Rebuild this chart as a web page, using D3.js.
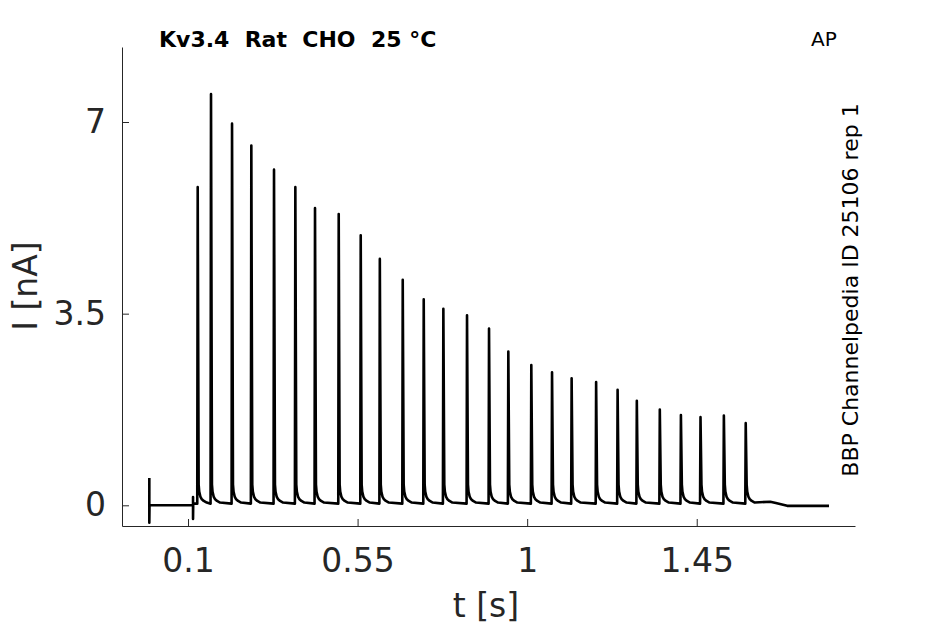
<!DOCTYPE html>
<html>
<head>
<meta charset="utf-8">
<script src="https://cdn.jsdelivr.net/npm/d3@7"></script>
<style>
  body { margin: 0; background: #fff; }
  text { font-family: "DejaVu Sans", sans-serif; fill: #262626; }
</style>
</head>
<body>
<div id="chart"></div>
<script>
// spike times (s) and peak currents (nA)
const spikeTimes = [0.1257, 0.161, 0.2168, 0.268, 0.3282, 0.3848, 0.437, 0.4999,
  0.5583, 0.609, 0.6698, 0.7255, 0.7776, 0.8404, 0.8988, 0.95, 1.011, 1.066,
  1.118, 1.183, 1.240, 1.291, 1.352, 1.408, 1.460, 1.522, 1.580];
const spikePeaks = [5.81, 7.51, 6.97, 6.57, 6.13, 5.81, 5.43, 5.32, 4.93, 4.50,
  4.12, 3.76, 3.59, 3.47, 3.23, 2.81, 2.56, 2.43, 2.32, 2.25, 2.11, 1.91, 1.75,
  1.65, 1.61, 1.64, 1.50];

// decay tail after each peak: offset (s) and current above baseline (nA)
const tailDt = [0.0025, 0.004, 0.007, 0.011, 0.016, 0.024];
const tailI = [0.35, 0.22, 0.13, 0.08, 0.05, 0.02];

// segments before the first spike and after the last one: [t, I]
const leadTrace = [[-0.0027, 0.5], [-0.0027, -0.32], [-0.0022, 0], [0.1133, 0],
  [0.1133, 0.15], [0.1133, -0.25], [0.1138, 0.03]];
const endTrace = [[1.645, 0.066], [1.66, 0.04], [1.69, -0.01], [1.801, -0.01]];
const baseline = 0.03;

const xTicks = [0.1, 0.55, 1, 1.45];
const xTickLabels = ["0.1", "0.55", "1", "1.45"];
const yTicks = [0, 3.5, 7];
const yTickLabels = ["0", "3.5", "7"];

const width = 945, height = 624;
const margin = {left: 122, right: 90, top: 47, bottom: 98};

const svg = d3.select("#chart").append("svg")
  .attr("width", width)
  .attr("height", height)
  .style("display", "block");

svg.append("rect").attr("width", width).attr("height", height).attr("fill", "#fff");

let scaleX = d3.scaleLinear()
  .domain([-0.0752, 1.870])
  .range([margin.left, width - margin.right]);
let scaleY = d3.scaleLinear()
  .domain([-0.378, 8.37])
  .range([height - margin.bottom, margin.top]);

// assemble the trace from the read-off pieces
let trace = leadTrace.slice();
for (let i = 0; i < spikeTimes.length; ++i) {
  let t = spikeTimes[i];
  trace.push([t - 0.0012, baseline]);
  trace.push([t, spikePeaks[i]]);
  for (let k = 0; k < tailDt.length; ++k) {
    trace.push([t + tailDt[k], baseline + tailI[k]]);
  }
}
trace = trace.concat(endTrace);

let line = d3.line()
  .x(d => scaleX(d[0]))
  .y(d => scaleY(d[1]));

let axisBottom = d3.axisBottom(scaleX)
  .tickValues(xTicks)
  .tickFormat((d, i) => xTickLabels[i])
  .tickSizeInner(-7)
  .tickSizeOuter(0);

let axisLeft = d3.axisLeft(scaleY)
  .tickValues(yTicks)
  .tickFormat((d, i) => yTickLabels[i])
  .tickSizeInner(-7)
  .tickSizeOuter(0)
  .tickPadding(16);

let gx = svg.append("g")
  .attr("transform", "translate(0," + (height - margin.bottom) + ")")
  .call(axisBottom);
gx.selectAll("text")
  .attr("y", 46)
  .attr("dy", 0)
  .style("font-size", "33px");

let gy = svg.append("g")
  .attr("transform", "translate(" + margin.left + ",0)")
  .call(axisLeft);
gy.selectAll("text")
  .style("font-size", "33px");

svg.selectAll(".domain, .tick line")
  .attr("stroke", "#262626")
  .attr("stroke-width", 1);

svg.append("path")
  .datum(trace)
  .attr("d", line)
  .attr("fill", "none")
  .attr("stroke", "#000")
  .attr("stroke-width", 2.6)
  .attr("stroke-linejoin", "round");

svg.append("text")
  .text("t [s]")
  .attr("text-anchor", "middle")
  .attr("x", 486)
  .attr("y", 617)
  .style("font-size", "33px");

svg.append("text")
  .text("I [nA]")
  .attr("text-anchor", "middle")
  .attr("transform", "translate(37,286) rotate(-90)")
  .style("font-size", "33px");

svg.append("text")
  .text("Kv3.4  Rat  CHO  25 °C")
  .attr("x", 159)
  .attr("y", 47)
  .style("font-size", "22px")
  .style("font-weight", "bold")
  .style("fill", "#000")
  .style("white-space", "pre");

svg.append("text")
  .text("AP")
  .attr("x", 811)
  .attr("y", 46)
  .style("font-size", "20px")
  .style("fill", "#000");

svg.append("text")
  .text("BBP Channelpedia ID 25106 rep 1")
  .attr("text-anchor", "middle")
  .attr("transform", "translate(858,290) rotate(-90)")
  .style("font-size", "22px")
  .style("fill", "#000");
</script>
</body>
</html>
